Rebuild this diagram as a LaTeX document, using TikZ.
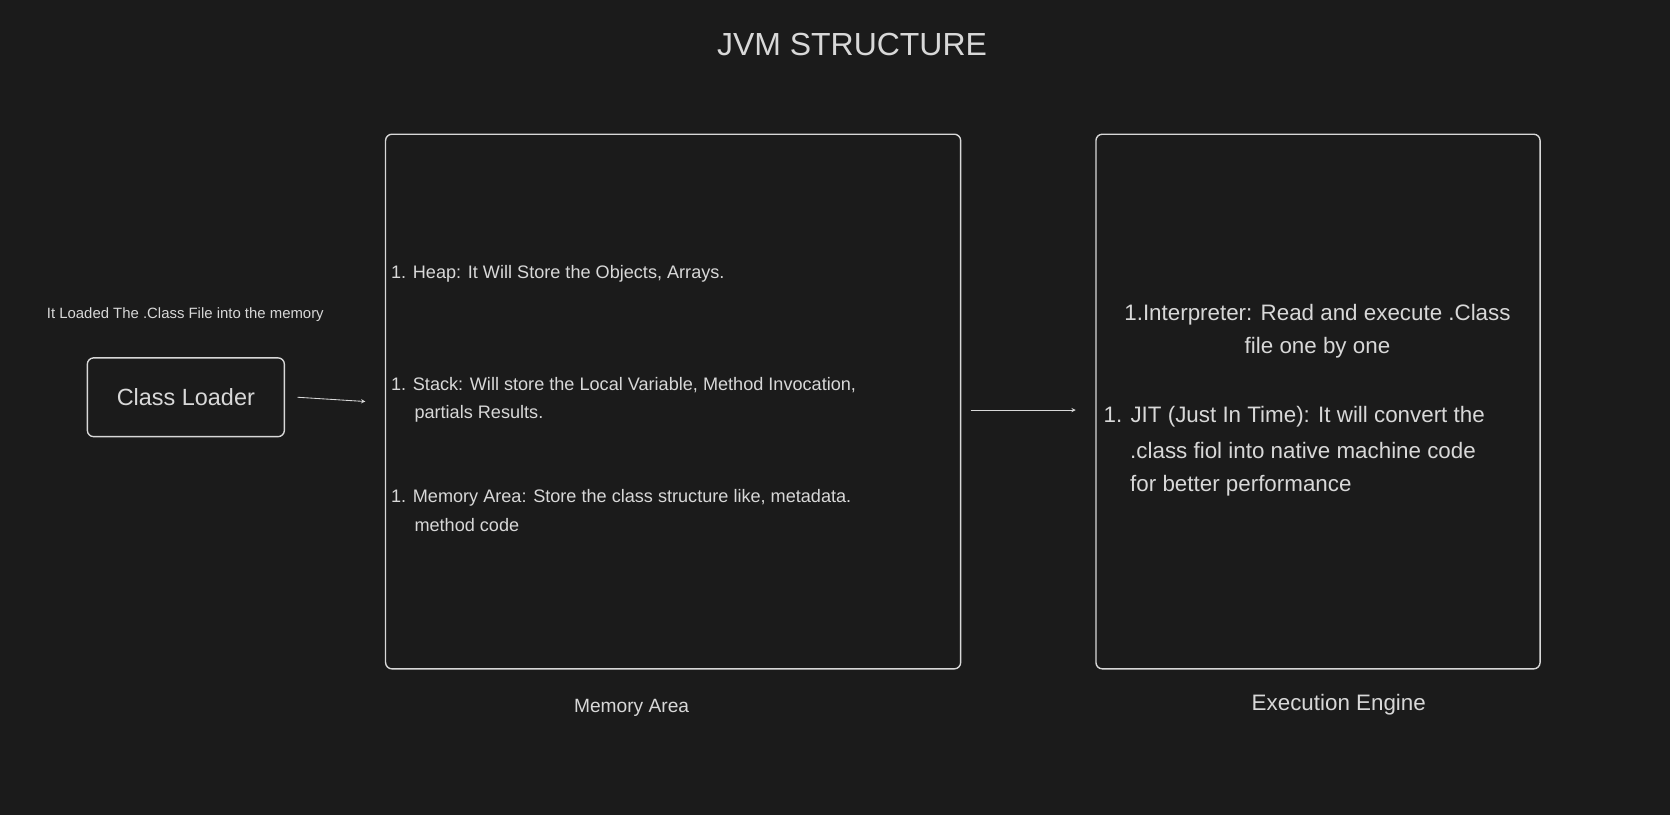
\documentclass[tikz,border=0pt]{standalone}
\usepackage{fontspec}
\setmainfont{Liberation Sans}
\usetikzlibrary{positioning}
\definecolor{bgcol}{HTML}{1B1B1B}
\definecolor{inkcol}{HTML}{D8D8D8}
\begin{document}
\begin{tikzpicture}[x=1pt,y=-1pt,line join=round,line cap=round,>=stealth]
  \tikzset{every node/.style={text=inkcol,inner sep=0pt},
    blockbox/.style={draw=inkcol,line width=1.3pt,rounded corners=6pt},
    flowarrow/.style={->,draw=inkcol,line width=0.8pt},
    listline/.style={anchor=west,font=\fontsize{17}{20}\selectfont}}
  \fill[bgcol] (0,0) rectangle (1568,765);
  \useasboundingbox (0,0) rectangle (1568,765);
  \node (title) at (800,42) {\fontsize{30}{34}\selectfont JVM STRUCTURE};
  % class loader
  \node (note) at (174,295) {\fontsize{14}{16}\selectfont It Loaded The .Class File into the memory};
  \node[blockbox,minimum width=185pt,minimum height=74pt] (loader) at (174.5,373)
    {\fontsize{22}{26}\selectfont Class Loader};
  % memory area
  \draw[blockbox] (362,126) rectangle (902,628);
  \coordinate (memin) at (343,377);
  \coordinate (memout) at (912,385);
  \node[listline] (heap) at (367,257) {1. Heap: It Will Store the Objects, Arrays.};
  \node[listline] (stack) at (367,362) {1. Stack: Will store the Local Variable, Method Invocation,};
  \node[listline] (stackb) at (389,389) {partials Results.};
  \node[listline] (area) at (367,467) {1. Memory Area: Store the class structure like, metadata.};
  \node[listline] (areab) at (389,493) {method code};
  \node (memlabel) at (593,665) {\fontsize{18}{21}\selectfont Memory Area};
  % execution engine
  \draw[blockbox] (1029,126) rectangle (1446,628);
  \coordinate (engin) at (1010,385);
  \node[align=center,font=\fontsize{21}{31}\selectfont] (interp) at (1237,311)
    {1.Interpreter: Read and execute .Class\\file one by one};
  \node[listline,font=\fontsize{21}{24}\selectfont] (jit) at (1036,391) {1. JIT (Just In Time): It will convert the};
  \node[listline,font=\fontsize{21}{24}\selectfont] (jitb) at (1061,423) {.class fiol into native machine code};
  \node[listline,font=\fontsize{21}{24}\selectfont] (jitc) at (1061,456) {for better performance};
  \node (englabel) at (1257,662) {\fontsize{21}{24}\selectfont Execution Engine};
  % arrows
  \draw[flowarrow] ([xshift=12pt]loader.east) -- (memin);
  \draw[flowarrow] (memout) -- (engin);
\end{tikzpicture}
\end{document}
